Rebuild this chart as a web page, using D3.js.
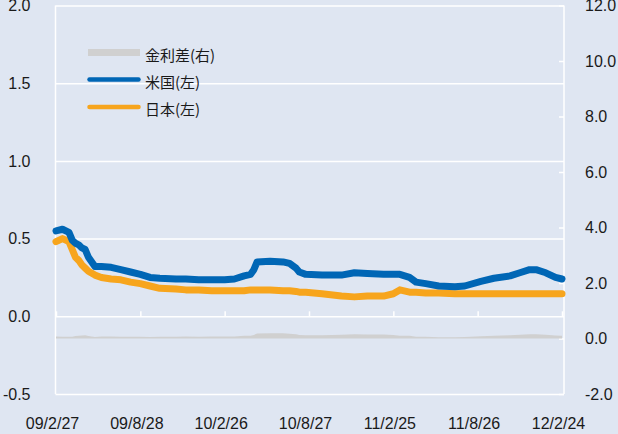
<!DOCTYPE html>
<html>
<head>
<meta charset="utf-8">
<script src="https://cdn.jsdelivr.net/npm/d3@7"></script>
<style>
body { margin:0; background:#dfe6f2; }
#canvas { width:618px; height:434px; }
.axis text { font-family:"Liberation Sans", Arial, sans-serif; font-size:16px; fill:#1a1a1a; }
.legend text { font-family:"Noto Sans CJK JP", sans-serif; font-size:15px; fill:#1a1a1a; }
</style>
</head>
<body>
<div id="canvas" class="canvas"></div>
<script>
// ---- DATA ----
var dates = ['2009-02-27','2009-03-13','2009-03-27','2009-04-03','2009-04-10','2009-04-17','2009-04-24',
    '2009-05-01','2009-05-08','2009-05-22','2009-06-05','2009-06-26','2009-07-17','2009-08-07','2009-08-28',
    '2009-09-18','2009-10-09','2009-11-13','2009-12-04','2010-01-01','2010-01-29','2010-02-26','2010-03-19',
    '2010-04-09','2010-04-23','2010-04-30','2010-05-07','2010-06-04','2010-07-02','2010-07-16','2010-07-30',
    '2010-08-06','2010-08-20','2010-09-24','2010-11-05','2010-12-03','2010-12-31','2011-02-04','2011-02-25',
    '2011-03-11','2011-04-01','2011-04-15','2011-05-06','2011-06-03','2011-07-08','2011-07-29','2011-09-02',
    '2011-09-30','2011-11-04','2011-11-25','2011-12-16','2011-12-30','2012-01-20','2012-02-10','2012-02-24'];

var usRate = [0.55,0.56,0.54,0.49,0.47,0.46,0.44,0.43,0.38,0.32,0.32,0.315,0.30,0.285,0.27,
    0.25,0.245,0.24,0.24,0.235,0.235,0.235,0.24,0.26,0.27,0.30,0.35,0.355,0.35,0.34,0.31,
    0.285,0.27,0.265,0.265,0.28,0.275,0.27,0.27,0.27,0.25,0.22,0.21,0.195,0.19,0.195,0.225,
    0.245,0.26,0.28,0.30,0.30,0.28,0.25,0.24];

var jpRate = [0.48,0.50,0.48,0.43,0.38,0.36,0.33,0.31,0.29,0.265,0.25,0.24,0.235,0.22,0.21,
    0.195,0.18,0.175,0.17,0.17,0.165,0.165,0.165,0.165,0.17,0.17,0.17,0.17,0.165,0.165,0.16,
    0.155,0.155,0.145,0.13,0.125,0.13,0.13,0.145,0.17,0.155,0.155,0.15,0.15,0.145,0.145,0.145,
    0.145,0.145,0.145,0.145,0.145,0.145,0.145,0.145];

var spread = [0.07,0.06,0.06,0.06,0.09,0.10,0.11,0.12,0.09,0.055,0.07,0.075,0.065,0.065,0.06,
    0.055,0.065,0.065,0.07,0.065,0.07,0.07,0.075,0.095,0.10,0.13,0.18,0.185,0.185,0.175,0.15,
    0.13,0.115,0.12,0.135,0.155,0.145,0.14,0.125,0.10,0.095,0.065,0.06,0.045,0.045,0.05,0.08,
    0.10,0.115,0.135,0.155,0.155,0.135,0.105,0.095];

var leftTicks = [-0.5, 0, 0.5, 1.0, 1.5, 2.0];
var rightTicks = [-2, 0, 2, 4, 6, 8, 10, 12];
var xTickDates = ['2009-02-27','2009-08-28','2010-02-26','2010-08-27','2011-02-25','2011-08-26','2012-02-24'];
var legendNames = ['金利差(右)', '米国(左)', '日本(左)'];


// ---- CONVENTIONS ----
var margin = {top:5.5, right:54, bottom:40, left:55.5};
var outerWidth = 618, outerHeight = 434;
var width = outerWidth - margin.left - margin.right,
    height = outerHeight - margin.top - margin.bottom;

var parseDate = d3.timeParse('%Y-%m-%d');
var fmt = d3.formatLocale({decimal:'.', thousands:',', grouping:[3], currency:['',''], minus:'-'}).format('.1f');

var rows = dates.map(function(d, i){
    return {date: parseDate(d), us: usRate[i], jp: jpRate[i], spread: spread[i]};
});

var svg = d3.select('.canvas')
    .append('svg')
    .attr('width', outerWidth)
    .attr('height', outerHeight);

var plot = svg.append('g')
    .attr('transform', 'translate(' + margin.left + ',' + margin.top + ')');


// ---- SCALES ----
var scaleX = d3.scaleTime()
    .domain([parseDate(xTickDates[0]), parseDate(xTickDates[xTickDates.length - 1])])
    .range([0.5, width - 2]);

var scaleY = d3.scaleLinear()
    .domain([-0.5, 2.0])
    .range([height, 0]);

var scaleY2 = d3.scaleLinear()
    .domain([-2, 12])
    .range([height, 0]);


// ---- AXES ----
var axisY = d3.axisLeft(scaleY)
    .tickValues(leftTicks)
    .tickSize(-width)
    .tickPadding(25)
    .tickFormat(fmt);

var axisY2 = d3.axisRight(scaleY2)
    .tickValues(rightTicks)
    .tickSize(-5)
    .tickPadding(21)
    .tickFormat(fmt);

var axisXTicks = d3.axisBottom(scaleX)
    .tickValues(xTickDates.map(parseDate))
    .tickSize(-5)
    .tickFormat('');

var axisXLabels = d3.axisBottom(scaleX)
    .tickValues(xTickDates.map(parseDate))
    .tickSize(0)
    .tickPadding(24)
    .tickFormat(d3.timeFormat('%y/%-m/%-d'));

plot.append('g').attr('class', 'axis axis-y')
    .call(axisY);
plot.append('g').attr('class', 'axis axis-y2')
    .attr('transform', 'translate(' + width + ',0)')
    .call(axisY2);
plot.append('g').attr('class', 'axis axis-x')
    .attr('transform', 'translate(0,' + scaleY(0) + ')')
    .call(axisXTicks);
plot.append('g').attr('class', 'axis axis-x-labels')
    .attr('transform', 'translate(0,' + height + ')')
    .call(axisXLabels);

plot.selectAll('.axis .domain').remove();
plot.selectAll('.axis line').attr('stroke', '#ffffff').attr('stroke-width', 1.5);
plot.selectAll('.axis-x-labels text').attr('dx', -4);

// plot frame sides
plot.selectAll('.frame')
    .data([0, width])
    .enter().append('line')
    .attr('class', 'frame')
    .attr('x1', function(d){ return d; })
    .attr('x2', function(d){ return d; })
    .attr('y1', 0)
    .attr('y2', height)
    .attr('stroke', '#ffffff')
    .attr('stroke-width', 1.5);


// ---- GENERATORS ----
var spreadArea = d3.area()
    .x(function(d){ return scaleX(d.date); })
    .y0(scaleY2(0))
    .y1(function(d){ return scaleY2(d.spread); });

var usLine = d3.line()
    .x(function(d){ return scaleX(d.date); })
    .y(function(d){ return scaleY(d.us); });

var jpLine = d3.line()
    .x(function(d){ return scaleX(d.date); })
    .y(function(d){ return scaleY(d.jp); });

plot.append('path')
    .datum(rows)
    .attr('d', spreadArea)
    .style('fill', '#d0d0d0');

plot.append('path')
    .datum(rows)
    .attr('d', jpLine)
    .style('fill', 'none')
    .style('stroke', '#f7a51d')
    .style('stroke-width', 7)
    .style('stroke-linejoin', 'round')
    .style('stroke-linecap', 'round');

plot.append('path')
    .datum(rows)
    .attr('d', usLine)
    .style('fill', 'none')
    .style('stroke', '#0066b5')
    .style('stroke-width', 7)
    .style('stroke-linejoin', 'round')
    .style('stroke-linecap', 'round');


// ---- LEGEND ----
var legend = svg.append('g').attr('class', 'legend');
var legendY = [52.5, 79.5, 107];
var legendColors = ['#d0d0d0', '#0066b5', '#f7a51d'];

legend.selectAll('.key')
    .data(legendNames)
    .enter().append('line')
    .attr('class', 'key')
    .attr('x1', function(d, i){ return i === 0 ? 88 : 89.5; })
    .attr('x2', function(d, i){ return i === 0 ? 140 : 138.5; })
    .attr('y1', function(d, i){ return legendY[i]; })
    .attr('y2', function(d, i){ return legendY[i]; })
    .attr('stroke', function(d, i){ return legendColors[i]; })
    .attr('stroke-width', function(d, i){ return i === 0 ? 7 : 4.5; })
    .attr('stroke-linecap', function(d, i){ return i === 0 ? 'butt' : 'round'; });

legend.selectAll('text')
    .data(legendNames)
    .enter().append('text')
    .attr('x', 145)
    .attr('y', function(d, i){ return legendY[i] + 3; })
    .attr('dy', '0.35em')
    .text(function(d){ return d; });
</script>
</body>
</html>
